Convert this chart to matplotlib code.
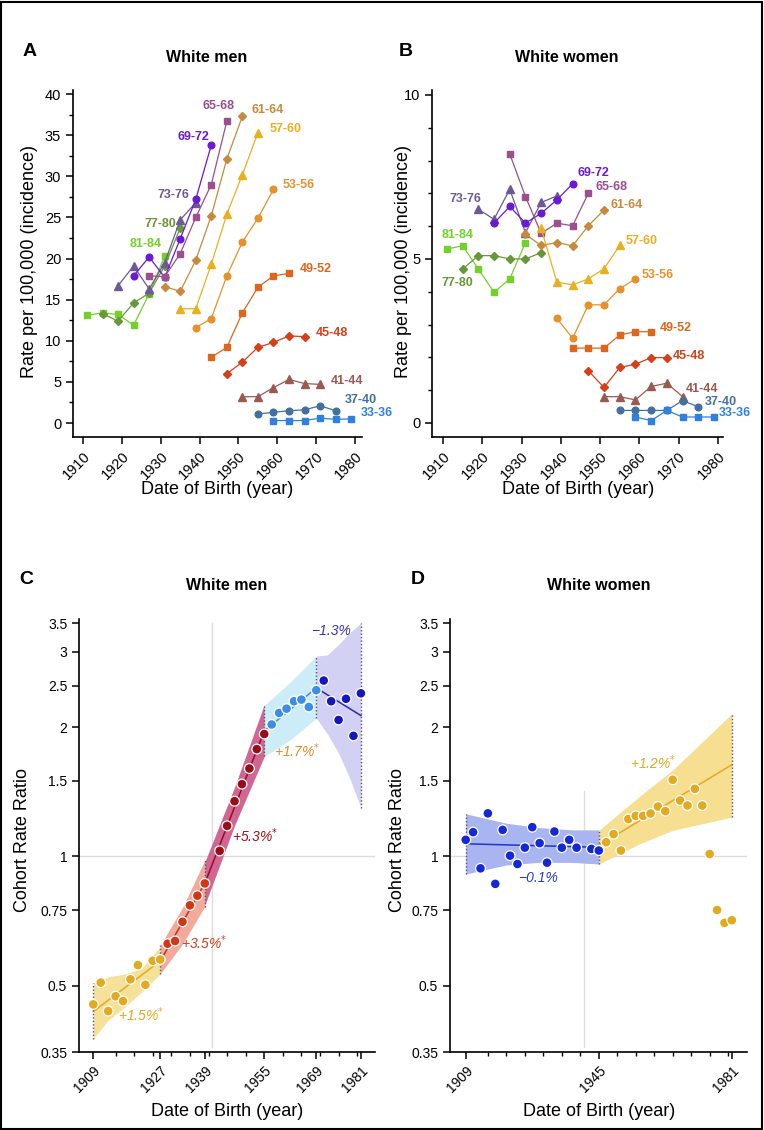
import numpy as np
import matplotlib.pyplot as plt
from matplotlib.patches import Rectangle
from matplotlib.ticker import NullLocator

plt.rcParams['font.family'] = ['Liberation Sans', 'DejaVu Sans']
plt.rcParams['axes.linewidth'] = 1.2

# ---------------- A / B: incidence by age group and birth cohort ----------------
age_groups = ["81-84", "77-80", "73-76", "69-72", "65-68", "61-64", "57-60",
              "53-56", "49-52", "45-48", "41-44", "37-40", "33-36"]
first_cohort = [1911, 1915, 1919, 1923, 1927, 1931, 1935, 1939, 1943, 1947, 1951, 1955, 1959]

men_rates = [
    [13.1, 13.4, 13.2, 11.9, 15.7, 20.3],
    [13.3, 12.4, 14.6, 15.8, 19.1, 23.7],
    [16.7, 19.1, 16.3, 19.5, 24.7, 26.8],
    [17.9, 20.2, 17.7, 22.4, 27.2, 33.8],
    [17.9, 17.8, 20.6, 25.0, 29.0, 36.7],
    [16.6, 16.0, 19.8, 25.2, 32.1, 37.3],
    [13.9, 13.9, 19.3, 25.4, 30.2, 35.3],
    [11.6, 12.7, 17.9, 22.0, 24.9, 28.4],
    [8.0, 9.2, 13.4, 16.5, 17.9, 18.2],
    [6.0, 7.4, 9.2, 9.8, 10.6, 10.5],
    [3.2, 3.2, 4.3, 5.3, 4.8, 4.7],
    [1.1, 1.3, 1.5, 1.6, 2.1, 1.5],
    [0.3, 0.3, 0.3, 0.6, 0.45, 0.5],
]
women_rates = [
    [5.30, 5.40, 4.69, 3.98, 4.39, 5.50],
    [4.69, 5.10, 5.10, 5.00, 5.00, 5.19],
    [6.51, 6.21, 7.12, 5.80, 6.72, 6.92],
    [6.09, 6.60, 6.09, 6.39, 6.80, 7.29],
    [8.20, 6.90, 5.78, 6.09, 6.01, 7.00],
    [5.75, 5.41, 5.50, 5.40, 6.01, 6.49],
    [5.93, 4.29, 4.21, 4.39, 4.70, 5.41],
    [3.19, 2.58, 3.60, 3.60, 4.09, 4.39],
    [2.28, 2.28, 2.28, 2.68, 2.78, 2.78],
    [1.59, 1.08, 1.69, 1.79, 1.99, 1.99],
    [0.80, 0.80, 0.70, 1.11, 1.21, 0.80],
    [0.38, 0.38, 0.38, 0.38, 0.68, 0.49],
    [0.18, 0.07, 0.38, 0.18, 0.18, 0.18],
]
age_colors = ["#74d12a", "#6a963a", "#6c5a94", "#6a1ad4", "#9b4f8c", "#c8893c", "#e8b021",
              "#e5922c", "#dc661c", "#d3401a", "#9a5a52", "#44709f", "#3080e0"]
age_markers = ["s", "D", "^", "o"] * 3 + ["s"]

# label positions (x = year, y = rate)
men_label_xy = [(1926.0, 21.8), (1929.8, 24.2), (1933.2, 27.7), (1938.3, 34.8), (1944.9, 38.5),
                (1957.4, 38.1), (1962.1, 35.8), (1965.5, 28.9), (1970.0, 18.7), (1974.1, 11.0),
                (1978.0, 5.1), (1981.5, 2.8), (1985.7, 1.2)]
women_label_xy = [(1913.6, 5.72), (1913.7, 4.28), (1915.8, 6.83), (1948.3, 7.63), (1952.8, 7.20),
                  (1956.8, 6.64), (1960.7, 5.55), (1964.8, 4.50), (1969.2, 2.89), (1972.6, 2.05),
                  (1976.0, 1.03), (1980.8, 0.65), (1984.3, 0.30)]

# ---------------- C / D: cohort rate ratios ----------------
men_years = [1909, 1911, 1913, 1915, 1917, 1919, 1921, 1923, 1925, 1927,
             1929, 1931, 1933, 1935, 1937, 1939,
             1943, 1945, 1947, 1949, 1951, 1953, 1955,
             1957, 1959, 1961, 1963, 1965, 1967, 1969,
             1971, 1973, 1975, 1977, 1979, 1981]
men_ratio = [0.452, 0.508, 0.436, 0.472, 0.460, 0.517, 0.558, 0.502, 0.571, 0.575,
             0.626, 0.635, 0.704, 0.769, 0.810, 0.865,
             1.03, 1.178, 1.345, 1.474, 1.603, 1.779, 1.929,
             2.03, 2.16, 2.21, 2.30, 2.32, 2.23, 2.44,
             2.57, 2.30, 2.08, 2.33, 1.91, 2.40]
men_breaks = [1909, 1927, 1939, 1955, 1969, 1981]
men_fit_start = [0.435, 0.57, 0.865, 1.96, 2.47]
men_fit_end = [0.57, 0.865, 1.96, 2.47, 2.13]
men_band_years = [[1909, 1913, 1917.5, 1922, 1927], [1927, 1933, 1939], [1939, 1947, 1955],
                  [1955, 1962, 1969], [1969, 1972, 1975, 1978, 1981]]
men_band_low = [[0.376, 0.415, 0.446, 0.483, 0.532], [0.532, 0.625, 0.764], [0.77, 1.18, 1.71],
                [1.71, 1.87, 2.10], [2.10, 1.93, 1.74, 1.52, 1.30]]
men_band_high = [[0.507, 0.524, 0.532, 0.548, 0.616], [0.62, 0.76, 0.98], [0.97, 1.45, 2.26],
                 [2.25, 2.55, 2.93], [2.93, 2.95, 3.12, 3.32, 3.50]]
men_apc = ["+1.5%", "+3.5%", "+5.3%", "+1.7%", "\u22121.3%"]
men_apc_sig = [True, True, True, True, False]
men_apc_xy = [(1922.0, 0.428), (1938.8, 0.630), (1952.5, 1.118), (1963.8, 1.766), (1973.0, 3.35)]
men_pt_colors = ["#e3a91f", "#cf3716", "#9a0d16", "#3d8de6", "#1616c0"]
men_fit_colors = ["#e3a91f", "#c8301a", "#9a0d16", "#3d8de6", "#2a2ab0"]
men_band_colors = ["#f6e19a", "#f1aa9c", "#cf6694", "#ccedf8", "#d3d1f3"]
men_apc_colors = ["#e3a91f", "#d2401a", "#a0101a", "#e08a2a", "#3a30b8"]

women_years = [1909, 1911, 1913, 1915, 1917, 1919, 1921, 1923, 1925, 1927,
               1929, 1931, 1933, 1935, 1937, 1939, 1943, 1945,
               1947, 1949, 1951, 1953, 1955, 1957, 1959, 1961, 1963,
               1965, 1967, 1969, 1971, 1973, 1975, 1977, 1979, 1981]
women_ratio = [1.093, 1.139, 0.938, 1.260, 0.863, 1.153, 1.004, 0.960, 1.048, 1.170,
               1.074, 0.967, 1.143, 1.048, 1.093, 1.048, 1.041, 1.032,
               1.079, 1.127, 1.032, 1.222, 1.243, 1.243, 1.259, 1.307, 1.275,
               1.509, 1.350, 1.314, 1.437, 1.314, 1.013, 0.750, 0.700, 0.710]
women_breaks = [1909, 1945, 1981]
women_fit_start = [1.07, 1.06]
women_fit_end = [1.05, 1.636]
women_band_years = [[1909, 1920, 1929, 1938, 1945], [1945, 1956, 1965, 1981]]
women_band_low = [[0.910, 0.955, 0.969, 0.968, 0.960], [0.96, 1.07, 1.15, 1.235]]
women_band_high = [[1.257, 1.195, 1.167, 1.153, 1.153], [1.15, 1.38, 1.59, 2.15]]
women_apc = ["\u22120.1%", "+1.2%"]
women_apc_sig = [False, True]
women_apc_xy = [(1928.7, 0.889), (1959.8, 1.65)]
women_pt_colors = ["#1428d6", "#e3a91f"]
women_fit_colors = ["#2036c8", "#e3a91f"]
women_band_colors = ["#a9b5f0", "#f6df90"]
women_apc_colors = ["#2a3ac0", "#e3a91f"]

ratio_ticks = [0.35, 0.5, 0.75, 1, 1.5, 2, 2.5, 3, 3.5]
ratio_tick_labels = ["0.35", "0.5", "0.75", "1", "1.5", "2", "2.5", "3", "3.5"]

W, H = 764, 1130
fig = plt.figure(figsize=(W / 100, H / 100), dpi=100)


def add_axes_px(left, top, right, bottom):
    return fig.add_axes([left / W, 1 - bottom / H, (right - left) / W, (bottom - top) / H])


def style_axes(ax):
    ax.spines["top"].set_visible(False)
    ax.spines["right"].set_visible(False)
    ax.tick_params(which="major", length=5, width=1.1)
    ax.tick_params(which="minor", length=3, width=1.0)


def draw_incidence(ax, rates, label_xy, ylim, yticks, yminor):
    for i, grp in enumerate(age_groups):
        years = first_cohort[i] + 4 * np.arange(len(rates[i]))
        mk = age_markers[i]
        ms = {"s": 4.6, "D": 3.8, "^": 5.2, "o": 4.8}[mk]
        ax.plot(years, rates[i], color=age_colors[i], marker=mk, ms=ms, lw=0.9,
                mec=age_colors[i], clip_on=False)
        ax.text(label_xy[i][0], label_xy[i][1], grp, color=age_colors[i], fontsize=9,
                fontweight="bold", ha="center", va="center", clip_on=False)
    style_axes(ax)
    ax.set_ylim(*ylim)
    ax.set_yticks(yticks)
    ax.set_yticks(yminor, minor=True)
    ax.set_xticks(range(1910, 1981, 10))
    ax.tick_params(axis="both", labelsize=10.5)
    plt.setp(ax.get_xticklabels(), rotation=45, ha="right", rotation_mode="anchor")


def draw_ratio(ax, years, ratio, breaks, pt_colors, fit_start, fit_end, fit_colors,
               band_years, band_low, band_high, band_colors, apc, apc_sig, apc_xy,
               apc_colors, major_years, ref_top):
    ax.set_yscale("log")
    ax.axhline(1, color="#dcdcdc", lw=1, zorder=0.5)
    ax.plot([1941, 1941], [0.36, ref_top], color="#dcdcdc", lw=1, zorder=0.5)
    for k in range(len(breaks) - 1):
        ax.fill_between(band_years[k], band_low[k], band_high[k], color=band_colors[k],
                        lw=0, zorder=1)
        ax.plot([breaks[k], breaks[k + 1]], [fit_start[k], fit_end[k]],
                color=fit_colors[k], lw=1.1, zorder=2)
        label = apc[k] + (r"$^{*}$" if apc_sig[k] else "")
        ax.text(apc_xy[k][0], apc_xy[k][1], label, color=apc_colors[k], fontsize=10,
                fontstyle="italic", ha="center", va="center", zorder=4)
    # dotted boundaries at the joinpoints
    for b in breaks:
        lows = [band_low[k][j] for k in range(len(band_years))
                for j in range(len(band_years[k])) if band_years[k][j] == b]
        highs = [band_high[k][j] for k in range(len(band_years))
                 for j in range(len(band_years[k])) if band_years[k][j] == b]
        ax.plot([b, b], [min(lows), max(highs)], color="#555566", lw=1.0,
                ls=(0, (1, 1.5)), zorder=2.5)
    colors = []
    for y in years:
        seg = 0
        while seg < len(breaks) - 2 and y > breaks[seg + 1]:
            seg += 1
        colors.append(pt_colors[seg])
    ax.scatter(years, ratio, s=50, c=colors, edgecolors="white", linewidths=0.9, zorder=3)
    style_axes(ax)
    ax.set_ylim(0.35, 3.576)
    ax.set_yticks(ratio_ticks)
    ax.set_yticklabels(ratio_tick_labels)
    ax.yaxis.set_minor_locator(NullLocator())
    ax.set_xticks(major_years)
    ax.set_xticks([y for y in range(1915, 1981, 5) if y not in major_years], minor=True)
    ax.tick_params(axis="both", labelsize=10)
    plt.setp(ax.get_xticklabels(), rotation=45, ha="right", rotation_mode="anchor")


ax_a = add_axes_px(73, 90, 362, 437)
ax_b = add_axes_px(432, 90, 723, 437)
ax_c = add_axes_px(79, 619, 375, 1052)
ax_d = add_axes_px(450, 619, 747, 1052)

draw_incidence(ax_a, men_rates, men_label_xy, (-1.7, 40.5),
               range(0, 41, 5), np.arange(2.5, 40, 5))
ax_a.set_xlim(1907.4, 1981.8)
draw_incidence(ax_b, women_rates, women_label_xy, (-0.43, 10.15),
               [0, 5, 10], [1, 2, 3, 4, 6, 7, 8, 9])
ax_b.set_xlim(1907.2, 1981.3)

draw_ratio(ax_c, men_years, men_ratio, men_breaks, men_pt_colors, men_fit_start, men_fit_end,
           men_fit_colors, men_band_years, men_band_low, men_band_high, men_band_colors,
           men_apc, men_apc_sig, men_apc_xy, men_apc_colors,
           [1909, 1927, 1939, 1955, 1969, 1981], 3.5)
ax_c.set_xlim(1905.15, 1984.8)
draw_ratio(ax_d, women_years, women_ratio, women_breaks, women_pt_colors, women_fit_start,
           women_fit_end, women_fit_colors, women_band_years, women_band_low, women_band_high,
           women_band_colors, women_apc, women_apc_sig, women_apc_xy, women_apc_colors,
           [1909, 1945, 1981], 1.42)
ax_d.set_xlim(1904.75, 1985.1)


# panel letters, titles and axis labels (figure pixel positions)
def fig_text(x, y, s, **kw):
    fig.text(x / W, 1 - y / H, s, ha="center", va="center", **kw)


for x, y, s in [(30, 52, "A"), (406, 52, "B"), (26, 580, "C"), (418, 580, "D")]:
    fig_text(x, y, s, fontsize=14, fontweight="bold")
for x, y, s in [(207, 57, "White men"), (567, 57, "White women"),
                (227, 585, "White men"), (599, 585, "White women")]:
    fig_text(x, y, s, fontsize=11.5, fontweight="bold")
for x, y in [(217, 490), (578, 490), (227, 1111), (599, 1111)]:
    fig_text(x, y, "Date of Birth (year)", fontsize=13)
for x, y in [(30, 262), (403, 262)]:
    fig_text(x, y, "Rate per 100,000 (incidence)", fontsize=13, rotation=90)
for x, y in [(23, 840), (397, 840)]:
    fig_text(x, y, "Cohort Rate Ratio", fontsize=13, rotation=90)

fig.patches.append(Rectangle((0.001, 0.001), 0.997, 0.997, transform=fig.transFigure,
                             fill=False, lw=1.5, ec="black"))

fig.savefig("out.png", dpi=100)
